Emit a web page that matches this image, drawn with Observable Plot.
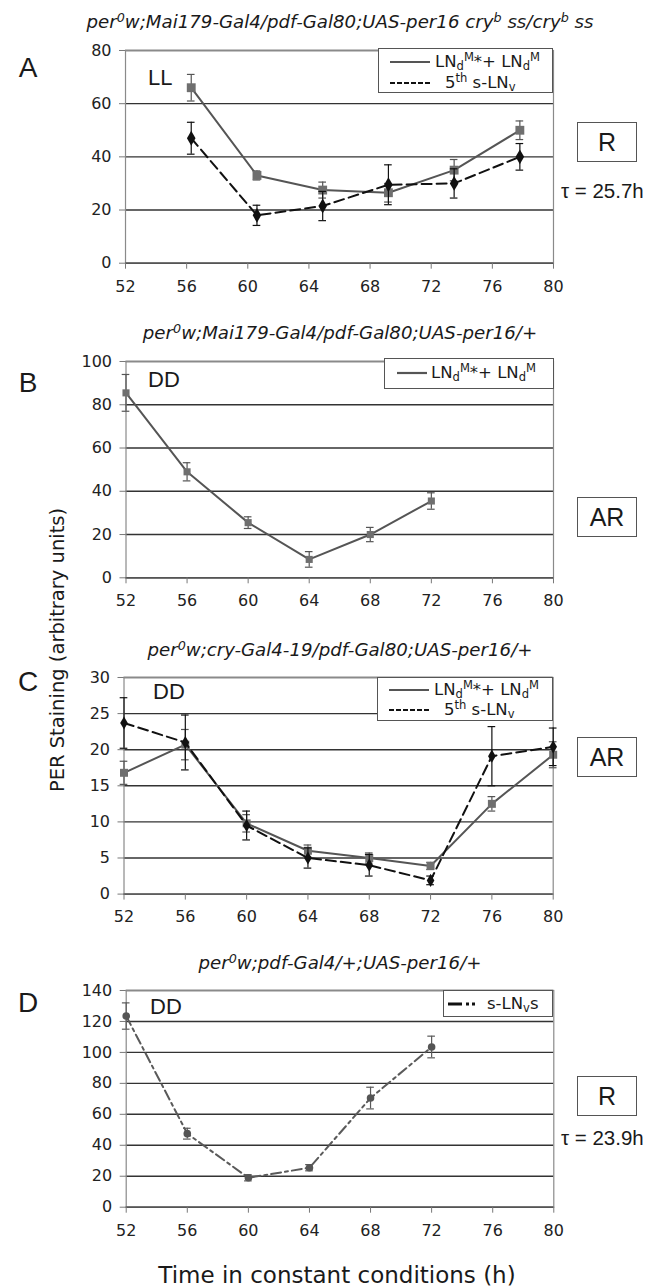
<!DOCTYPE html>
<html><head><meta charset="utf-8">
<script src="https://cdn.jsdelivr.net/npm/d3@7"></script>
<script src="https://cdn.jsdelivr.net/npm/@observablehq/plot@0.6"></script>
<style>
body{margin:0;background:#fff;}
#root{position:relative;width:658px;height:1288px;background:#fff;overflow:hidden;font-family:"DejaVu Sans",sans-serif;color:#1a1a1a;}
.abs{position:absolute;white-space:nowrap;line-height:1;}
.title{font-style:italic;font-size:18.2px;transform:translate(-50%,-50%);}
.title sup, .leg sup{font-size:0.7em;vertical-align:0.5em;line-height:0;}
.leg sub{font-size:0.7em;vertical-align:-0.25em;line-height:0;}
.letter{font-family:"Liberation Sans",Arial,sans-serif;font-size:28px;transform:translate(-50%,-50%);}
.cond{font-family:"Liberation Sans",Arial,sans-serif;font-size:22px;transform:translate(0,-50%);}
.box{border:1.5px solid #555;font-family:"Liberation Sans",Arial,sans-serif;font-size:25px;display:flex;align-items:center;justify-content:center;box-sizing:border-box;background:#fff;}
.tau{font-family:"Liberation Sans",Arial,sans-serif;font-size:20.5px;transform:translate(0,-50%);}
.legbox{border:1.5px solid #555;background:#fff;box-sizing:border-box;}
.leg{font-size:16.5px;transform:translate(0,-50%);}
.axt{font-size:19.5px;transform:translate(-50%,-50%);}
.axtx{font-size:23px;transform:translate(-50%,-50%);}
</style>
</head><body>
<div id="root"></div>
<script>
// ---------- data ----------
const xTicks = [52, 56, 60, 64, 68, 72, 76, 80];

// Panel A (LL)
const aX = [56.3, 60.6, 64.9, 69.2, 73.5, 77.8];
const aSolid = [66, 33, 27.5, 26.5, 35, 50];
const aSolidErr = [5, 1.7, 3, 3.5, 4, 3.5];
const aDash = [47, 18, 21.5, 29.5, 30, 40];
const aDashErr = [6, 3.8, 5.5, 7.5, 5.5, 5];
const aYTicks = [0, 20, 40, 60, 80];

// Panel B (DD)
const bX = [52, 56, 60, 64, 68, 72];
const bSolid = [85.5, 49, 25.5, 8.5, 20, 35.5];
const bSolidErr = [8.5, 4.2, 2.7, 3.6, 3.3, 3.8];
const bYTicks = [0, 20, 40, 60, 80, 100];

// Panel C (DD)
const cX = [52, 56, 60, 64, 68, 72, 76, 80];
const cSolid = [16.8, 20.7, 9.8, 6.0, 5.0, 3.9, 12.5, 19.3];
const cSolidErr = [1.6, 2.1, 1.2, 0.8, 0.7, 0.5, 1.0, 1.8];
const cDash = [23.7, 21.0, 9.5, 5.0, 4.0, 1.9, 19.1, 20.4];
const cDashErr = [3.5, 3.8, 2.0, 1.4, 1.5, 0.6, 4.1, 2.6];
const cYTicks = [0, 5, 10, 15, 20, 25, 30];

// Panel D (DD)
const dX = [52, 56, 60, 64, 68, 72];
const dVal = [123.5, 47.5, 19, 25.5, 70.5, 103.5];
const dErr = [8.5, 3.5, 2, 2, 7, 7];
const dYTicks = [0, 20, 40, 60, 80, 100, 120, 140];

// ---------- drawing ----------
const root = document.getElementById("root");
const SOLID = {color: "#555", dash: null, symbol: "square", fill: "#6f6f6f"};
const DASH = {color: "#111", dash: "10,5", symbol: "diamond", fill: "#111"};
const DASHDOT = {color: "#5a5a5a", dash: "10,4,3,4", symbol: "circle", fill: "#555"};

function panel(cfg) {
  const {left, right, top, bottom, yMax, yTicks, series} = cfg;
  const mt = 10, mb = 45;
  const h = bottom - top + mt + mb;
  const cap = 0.25;
  const marks = [
    Plot.gridY(yTicks, {stroke: "#333", strokeOpacity: 1, strokeWidth: 1.4}),
    Plot.frame({stroke: "#8a8a8a", strokeWidth: 1.2}),
    Plot.ruleY([0], {stroke: "#555", strokeWidth: 1.4}),
    Plot.axisX(xTicks, {tickSize: 6, tickPadding: 11, fontSize: 16, stroke: "#777", label: null, tickFormat: d => d}),
    Plot.axisY(yTicks, {tickSize: 6, tickPadding: 8, fontSize: 16, stroke: "#777", label: null, tickFormat: d => d})
  ];
  for (const s of series) {
    const data = s.x.map((x, i) => ({x, y: s.y[i], e: s.e[i]}));
    marks.push(Plot.ruleX(data, {x: "x", y1: d => d.y - d.e, y2: d => d.y + d.e, stroke: s.style.color, strokeWidth: 1.2}));
    marks.push(Plot.ruleY(data, {x1: d => d.x - cap, x2: d => d.x + cap, y: d => d.y - d.e, stroke: s.style.color, strokeWidth: 1.2}));
    marks.push(Plot.ruleY(data, {x1: d => d.x - cap, x2: d => d.x + cap, y: d => d.y + d.e, stroke: s.style.color, strokeWidth: 1.2}));
    marks.push(Plot.line(data, {x: "x", y: "y", stroke: s.style.color, strokeWidth: 2, strokeDasharray: s.style.dash}));
    marks.push(Plot.dot(data, {x: "x", y: "y", symbol: s.style.symbol, r: s.r, fill: s.style.fill, stroke: "none"}));
  }
  const svg = Plot.plot({
    width: 658, height: h,
    marginLeft: left, marginRight: 658 - right, marginTop: mt, marginBottom: mb,
    x: {domain: [52, 80]},
    y: {domain: [0, yMax]},
    style: {fontFamily: "DejaVu Sans, sans-serif", fontSize: "16px", color: "#222", background: "transparent", overflow: "visible"},
    marks
  });
  svg.style.position = "absolute";
  svg.style.left = "0px";
  svg.style.top = (top - mt) + "px";
  root.appendChild(svg);
}

panel({left: 125, right: 553, top: 50, bottom: 262.7, yMax: 80, yTicks: aYTicks, series: [
  {x: aX, y: aSolid, e: aSolidErr, style: SOLID, r: 5},
  {x: aX, y: aDash, e: aDashErr, style: DASH, r: 4.5}
]});
panel({left: 125.5, right: 553, top: 360.7, bottom: 577, yMax: 100, yTicks: bYTicks, series: [
  {x: bX, y: bSolid, e: bSolidErr, style: SOLID, r: 4}
]});
panel({left: 123.5, right: 552.7, top: 676.7, bottom: 893.3, yMax: 30, yTicks: cYTicks, series: [
  {x: cX, y: cSolid, e: cSolidErr, style: SOLID, r: 4.5},
  {x: cX, y: cDash, e: cDashErr, style: DASH, r: 4}
]});
panel({left: 125.7, right: 553.3, top: 990, bottom: 1206.7, yMax: 140, yTicks: dYTicks, series: [
  {x: dX, y: dVal, e: dErr, style: DASHDOT, r: 3.8}
]});

// ---------- annotations ----------
function add(cls, html, css) {
  const d = document.createElement("div");
  d.className = "abs " + cls;
  d.innerHTML = html;
  Object.assign(d.style, css);
  root.appendChild(d);
  return d;
}
const titles = [
  ["per<sup>0</sup>w;Mai179-Gal4/pdf-Gal80;UAS-per16 cry<sup>b</sup> ss/cry<sup>b</sup> ss", 22],
  ["per<sup>0</sup>w;Mai179-Gal4/pdf-Gal80;UAS-per16/+", 333],
  ["per<sup>0</sup>w;cry-Gal4-19/pdf-Gal80;UAS-per16/+", 650],
  ["per<sup>0</sup>w;pdf-Gal4/+;UAS-per16/+", 963]
];
for (const [t, y] of titles) add("title", t, {left: "340px", top: y + "px"});

const letters = [["A", 68], ["B", 383], ["C", 682], ["D", 1003]];
for (const [t, y] of letters) add("letter", t, {left: "28px", top: y + "px"});

const conds = [["LL", 148, 78], ["DD", 148, 380], ["DD", 153, 692], ["DD", 150, 1007]];
for (const [t, x, y] of conds) add("cond", t, {left: x + "px", top: y + "px"});

const boxes = [["R", 122], ["AR", 497], ["AR", 737], ["R", 1076]];
for (const [t, y] of boxes) add("box", t, {left: "577px", top: y + "px", width: "60px", height: "40px"});
add("tau", "τ = 25.7h", {left: "561px", top: "191px"});
add("tau", "τ = 23.9h", {left: "561px", top: "1138px"});

add("axt", "PER Staining (arbitrary units)", {left: "58px", top: "650px", transform: "translate(-50%,-50%) rotate(-90deg)"});
add("axtx", "Time in constant conditions (h)", {left: "337px", top: "1275px"});

// legends
const LBL1 = "LN<sub>d</sub><sup>M</sup>*+ LN<sub>d</sub><sup>M</sup>";
const LBL2 = "5<sup>th</sup> s-LN<sub>v</sub>";
const LBL3 = "s-LN<sub>v</sub>s";
function sample(x1, x2, y, st) {
  const ns = "http://www.w3.org/2000/svg";
  const s = document.createElementNS(ns, "svg");
  s.setAttribute("width", x2 - x1 + 4); s.setAttribute("height", 8);
  s.style.position = "absolute"; s.style.left = (x1 - 2) + "px"; s.style.top = (y - 4) + "px";
  const l = document.createElementNS(ns, "line");
  l.setAttribute("x1", 2); l.setAttribute("x2", x2 - x1 + 2); l.setAttribute("y1", 4); l.setAttribute("y2", 4);
  l.setAttribute("stroke", st.color); l.setAttribute("stroke-width", st.w || 2.2);
  if (st.dash) l.setAttribute("stroke-dasharray", st.dash);
  s.appendChild(l); root.appendChild(s);
}
function legend(box, rows) {
  add("legbox", "", {left: box[0] + "px", top: box[1] + "px", width: box[2] + "px", height: box[3] + "px"});
  for (const r of rows) {
    sample(r.sx1, r.sx2, r.y, r.st);
    add("leg", r.label, {left: r.tx + "px", top: r.y + "px"});
  }
}
legend([378, 48, 175, 45], [
  {sx1: 390, sx2: 430, y: 61.5, st: {color: "#555"}, label: LBL1, tx: 435},
  {sx1: 390, sx2: 430, y: 83, st: {color: "#111", dash: "5,2"}, label: LBL2, tx: 445}
]);
legend([384, 358, 170, 31], [
  {sx1: 397, sx2: 427, y: 373, st: {color: "#555"}, label: LBL1, tx: 431}
]);
legend([377, 677, 176, 44], [
  {sx1: 389, sx2: 429, y: 689.5, st: {color: "#555"}, label: LBL1, tx: 434},
  {sx1: 389, sx2: 429, y: 710, st: {color: "#111", dash: "5,2"}, label: LBL2, tx: 444}
]);
legend([443, 990, 110, 27], [
  {sx1: 448, sx2: 483, y: 1003.5, st: {color: "#111", dash: "14,4,3,3,3,20", w: 3}, label: LBL3, tx: 487}
]);
</script>
</body></html>
